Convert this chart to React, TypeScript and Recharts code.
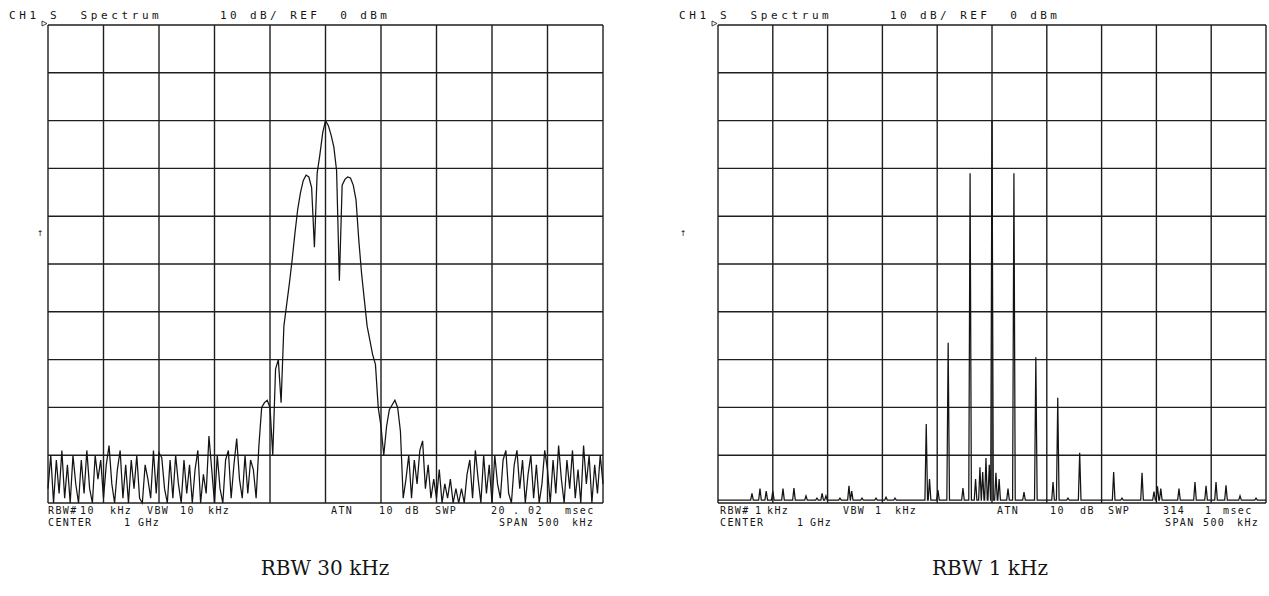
import { LineChart, Line, XAxis, YAxis, CartesianGrid } from 'recharts'

// HP-style spectrum plots, 500 kHz span around 1 GHz, 10 dB/div from REF 0 dBm
const FREQ_TICKS = [-250, -200, -150, -100, -50, 0, 50, 100, 150, 200, 250]
const DB_TICKS = [-100, -90, -80, -70, -60, -50, -40, -30, -20, -10, 0]
const SWEEP_START = -250
const SWEEP_STEP = 2.5 // 201 sweep points

// left trace (dBm per sweep point)
const WIDE_RBW_DB = [
  -97, -90, -100, -91, -98, -89, -99, -92, -100, -90,
  -96, -100, -91, -98, -89, -97, -100, -90, -95, -91,
  -99, -92, -88, -96, -100, -93, -89, -99, -92, -100,
  -91, -97, -90, -99, -100, -92, -95, -99, -89, -98,
  -89.5, -90.5, -97, -100, -91, -99, -90, -96, -100, -91,
  -98, -92, -100, -93, -89, -100, -94, -98, -86, -93,
  -100, -90, -97, -100, -91, -89, -99, -92, -86.5, -95,
  -99, -90, -98, -91,
  -93, -99, -88, -80, -79, -78.5, -80, -90, -72, -70,
  -79, -63, -58.5, -54, -49, -43.5, -38.5, -35, -32.5, -31.4,
  -31.8, -34, -46.5, -31, -27, -22.5, -20, -21, -23, -25.5,
  -30.5, -53.5, -33.5, -32.3, -31.8, -32, -33.5, -36.6, -45, -52,
  -57.5, -63, -66, -69, -71, -80, -84, -90, -84, -80.5,
  -79.5, -78.5, -80, -85, -99,
  -95, -90, -99, -91, -96, -89, -87, -97, -92, -99,
  -95, -99, -93, -100, -96, -99, -95, -100, -97, -100,
  -97, -100, -94, -91, -99, -89, -95, -100, -90, -98,
  -92, -100, -90, -96, -99, -91, -89, -98, -100, -92,
  -89, -97, -91, -100, -94, -90, -99, -92, -100, -96,
  -89, -93, -100, -91, -98, -88, -95, -100, -91, -97,
  -89, -99, -93, -100, -88, -96, -90, -100, -92, -98,
  -90, -96,
]

// right trace: discrete spectral lines (kHz offset, dBm) over a floor
const NARROW_LINE_KHZ = [
  -219, -211.7, -206, -200, -190.7, -180.7, -169.7, -159.7, -155, -151.5,
  -138.7, -130.5, -128, -118.6, -105.8, -96.7, -88.5, -60, -57, -49.3,
  -40, -26.5, -20, -15, -11, -8.5, -5.5, -2.5, 0, 3.6,
  6.5, 14.6, 20, 29.2, 40, 55.7, 60, 69.3, 80, 111,
  118.6, 136.9, 147.8, 151, 154, 170.6, 185.2, 195.3, 204.4, 213.5,
  226.3, 240.9,
]
const NARROW_LINE_DB = [
  -98, -97, -97.5, -97.5, -97, -96.9, -98.5, -99, -98, -98.5,
  -99, -96.4, -97.5, -99, -99, -98.8, -99, -83.5, -95, -97.3,
  -66.5, -96.9, -31, -95, -92.5, -93.5, -90.6, -92, -20, -93.7,
  -95, -97, -31, -97.7, -69.5, -95.6, -78, -99, -89.5, -93.5,
  -99, -93.7, -97.6, -96.5, -97, -97, -95.6, -96.4, -95.6, -96.3,
  -98.5, -99,
]
const NARROW_FLOOR_DB = -99.4
const LINE_HALF_WIDTH = 1.2 // kHz, about one resolution bandwidth

const CAPTIONS = ['RBW 30 kHz', 'RBW 1 kHz']

const wideData = WIDE_RBW_DB.map((db, i) => ({ f: SWEEP_START + i * SWEEP_STEP, db }))

const narrowData = (() => {
  const rows: { f: number; db: number }[] = [{ f: -250, db: NARROW_FLOOR_DB }]
  NARROW_LINE_KHZ.forEach((f, i) => {
    rows.push({ f: f - LINE_HALF_WIDTH, db: NARROW_FLOOR_DB })
    rows.push({ f, db: NARROW_LINE_DB[i] })
    rows.push({ f: f + LINE_HALF_WIDTH, db: NARROW_FLOOR_DB })
  })
  rows.push({ f: 250, db: NARROW_FLOOR_DB })
  return rows
})()

const PANELS = [
  {
    data: wideData, chartX: 0, chartW: 640, plotX: 48, plotW: 555, caption: CAPTIONS[0], capX: 325, markX: 40,
    row1: [['RBW#', 0], ['10', 32], ['kHz', 62], ['VBW', 99], ['10', 132], ['kHz', 160], ['ATN', 283], ['10', 331], ['dB', 357], ['SWP', 387], ['20', 443], ['.', 465], ['02', 480], ['msec', 517]],
    row2: [['CENTER', 0], ['1', 76], ['GHz', 90], ['SPAN', 451], ['500', 490], ['kHz', 524]],
  },
  {
    data: narrowData, chartX: 640, chartW: 629, plotX: 718, plotW: 548, caption: CAPTIONS[1], capX: 990, markX: 683,
    row1: [['RBW#', 2], ['1', 37], ['kHz', 49], ['VBW', 125], ['1', 157], ['kHz', 177], ['ATN', 279], ['10', 332], ['dB', 362], ['SWP', 390], ['314', 445], ['1', 487], ['msec', 505]],
    row2: [['CENTER', 2], ['1', 79], ['GHz', 92], ['SPAN', 447], ['500', 485], ['kHz', 519]],
  },
] as const

const PLOT_TOP = 25
const PLOT_BOTTOM = 503
const INK = '#141414'
const MONO = '"DejaVu Sans Mono", monospace'

export default function App() {
  return (
    <div style={{ position: 'absolute', left: 0, top: 0, width: 1269, height: 596, background: '#fff', overflow: 'hidden' }}>
      {PANELS.map((p, k) => (
        <div key={k} style={{ position: 'absolute', left: p.chartX, top: 0 }}>
          <LineChart
            width={p.chartW}
            height={596}
            data={p.data as any}
            margin={{ top: PLOT_TOP, bottom: 596 - PLOT_BOTTOM, left: p.plotX - p.chartX, right: p.chartX + p.chartW - p.plotX - p.plotW }}
          >
            <CartesianGrid stroke="#1e1e1e" strokeWidth={1.4} />
            <XAxis type="number" dataKey="f" domain={[-250, 250]} ticks={FREQ_TICKS} hide />
            <YAxis type="number" domain={[-100, 0]} ticks={DB_TICKS} hide />
            <Line type="linear" dataKey="db" stroke={INK} strokeWidth={1.25} dot={false} isAnimationActive={false} />
          </LineChart>
        </div>
      ))}

      {/* instrument annotations and captions */}
      <svg width={1269} height={596} style={{ position: 'absolute', left: 0, top: 0, pointerEvents: 'none' }}>
        {PANELS.map((p, k) => (
          <g key={k} fill={INK} fontFamily={MONO}>
            <text x={p.plotX - 39} y={19} fontSize={11} letterSpacing={3.6} style={{ whiteSpace: 'pre' }}>CH1 S  Spectrum</text>
            <text x={p.plotX + 172} y={19} fontSize={11} letterSpacing={3.4} style={{ whiteSpace: 'pre' }}>10 dB/ REF  0 dBm</text>
            <polygon points={`${p.plotX - 6},${PLOT_TOP - 4} ${p.plotX - 1},${PLOT_TOP - 1.5} ${p.plotX - 6},${PLOT_TOP + 1}`} fill="none" stroke={INK} strokeWidth={0.8} />
            <text x={p.markX} y={236} fontFamily="DejaVu Sans" fontSize={8} textAnchor="middle">↑</text>
            {p.row1.map(([t, dx], j) => (
              <text key={'a' + j} x={p.plotX + dx} y={514} fontSize={10} letterSpacing={1.4}>{t}</text>
            ))}
            {p.row2.map(([t, dx], j) => (
              <text key={'b' + j} x={p.plotX + dx} y={525.5} fontSize={10} letterSpacing={1.4}>{t}</text>
            ))}
            <text x={p.capX} y={575} fontFamily='"DejaVu Serif", serif' fontSize={20} textAnchor="middle">{p.caption}</text>
          </g>
        ))}
      </svg>
    </div>
  )
}
